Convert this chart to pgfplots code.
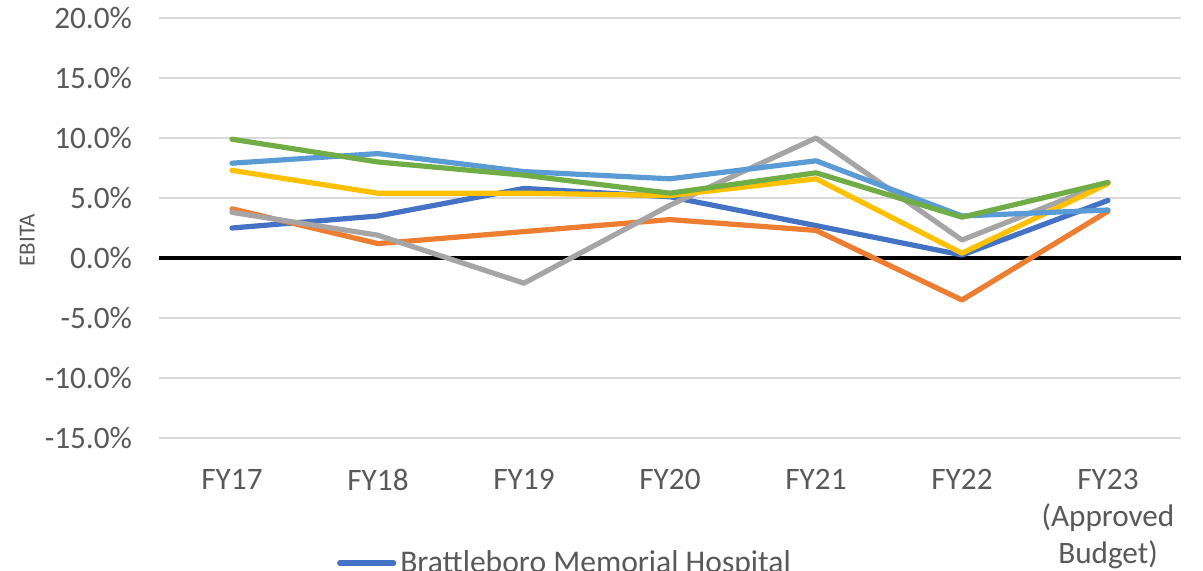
\documentclass[border=0pt]{standalone}
\usepackage{fontspec}
\setmainfont{Carlito}
\usepackage{pgfplots}
\pgfplotsset{compat=1.18}
\definecolor{cA}{HTML}{4472C4}
\definecolor{cB}{HTML}{ED7D31}
\definecolor{cC}{HTML}{A5A5A5}
\definecolor{cD}{HTML}{FFC000}
\definecolor{cE}{HTML}{5B9BD5}
\definecolor{cF}{HTML}{70AD47}
\definecolor{tc}{HTML}{595959}
\definecolor{gc}{HTML}{D9D9D9}
\begin{document}
\begin{tikzpicture}[x=1pt,y=1pt]
\path[use as bounding box] (0,0) rectangle (601.5,285.5);
\begin{axis}[
  at={(79.5pt,66.5pt)}, anchor=south west,
  scale only axis, width=511pt, height=210pt,
  xmin=-0.5, xmax=6.5, ymin=-15, ymax=20,
  xtick={0,...,6},
  xticklabels={FY17,FY18,FY19,FY20,FY21,FY22,{FY23\\(Approved\\Budget)}},
  xticklabel style={align=center, anchor=north, yshift=-12pt, font=\fontsize{15.6}{18.5}\selectfont, text=tc},
  ytick={-15,-10,...,20},
  yticklabel={\pgfmathprintnumber[fixed,fixed zerofill,precision=1,assume math mode=true]{\tick}\%},
  yticklabel style={font=\fontsize{15.6}{18}\selectfont, text=tc, xshift=-10pt},
  ymajorgrids, grid style={gc, line width=0.8pt},
  extra y ticks={0}, extra y tick labels={},
  extra y tick style={grid style={black, line width=1.6pt}},
  major tick length=0pt,
  axis line style={draw=none},
  ylabel={EBITA},
  ylabel style={at={(axis description cs:-0.129,0.471)}, anchor=center, rotate=0, font=\fontsize{11.5}{13}\selectfont, text=tc},
  legend style={at={(axis description cs:0.168,-0.248)}, anchor=north west, draw=none, fill=none,
    font=\fontsize{15.8}{18}\selectfont, text=tc},
  legend cell align=left,
  legend image code/.code={\draw (0pt,0pt) -- (27pt,0pt);},
  every axis plot/.append style={line width=2.6pt, line join=round, line cap=round},
  clip=false,
]
\addplot[cA] coordinates {(0,2.5) (1,3.5) (2,5.8) (3,5.1) (4,2.7) (5,0.25) (6,4.8)};
\addplot[cB] coordinates {(0,4.1) (1,1.2) (2,2.2) (3,3.2) (4,2.3) (5,-3.5) (6,3.9)};
\addplot[cC] coordinates {(0,3.8) (1,1.9) (2,-2.1) (3,4.4) (4,10.0) (5,1.5) (6,6.3)};
\addplot[cD] coordinates {(0,7.3) (1,5.4) (2,5.4) (3,5.2) (4,6.6) (5,0.4) (6,6.2)};
\addplot[cE] coordinates {(0,7.9) (1,8.7) (2,7.2) (3,6.6) (4,8.1) (5,3.5) (6,4.0)};
\addplot[cF] coordinates {(0,9.9) (1,8.0) (2,6.9) (3,5.4) (4,7.1) (5,3.4) (6,6.3)};
\legend{Brattleboro Memorial Hospital}
\end{axis}
\end{tikzpicture}
\end{document}
